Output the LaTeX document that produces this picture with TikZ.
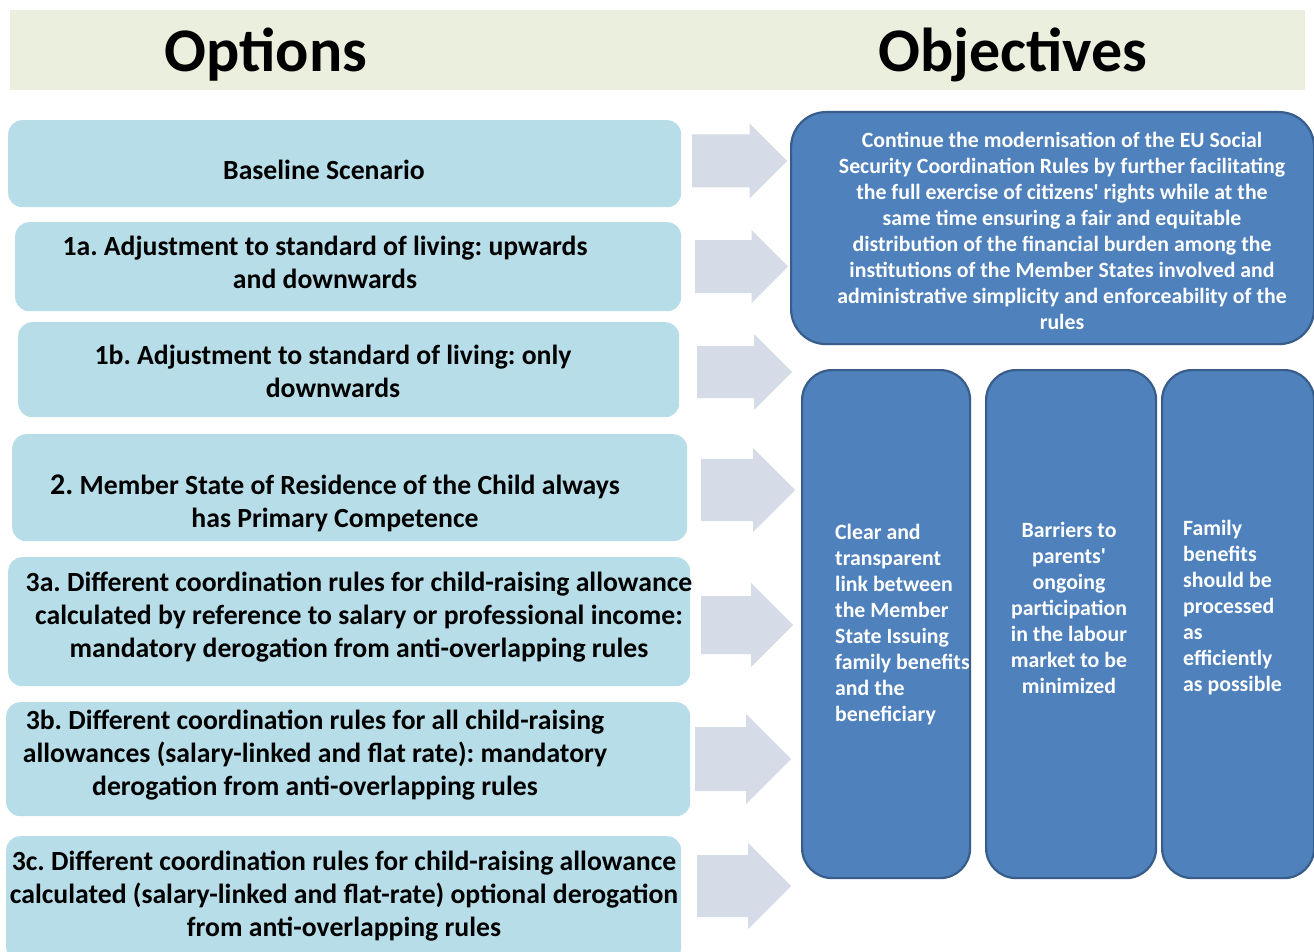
\documentclass[tikz,border=0pt]{standalone}
\usepackage{fontspec}
\setmainfont{Carlito}[Ligatures=TeXOff]
\definecolor{hdrfill}{HTML}{EBF0DE}
\definecolor{optfill}{HTML}{B7DDE8}
\definecolor{arrfill}{HTML}{D6DBE8}
\definecolor{objfill}{HTML}{4F81BD}
\definecolor{objline}{HTML}{385D8A}
\tikzset{
  optbox/.style={fill=optfill, rounded corners=14pt, inner sep=0pt, anchor=north west},
  objbox/.style={fill=objfill, draw=objline, line width=2.2pt, inner sep=0pt, anchor=north west},
  blockarrow/.style={fill=arrfill},
  opttext/.style={font=\fontsize{27.7}{33}\selectfont\bfseries, align=center, inner sep=0pt, text=black},
  objtext/.style={font=\fontsize{21.8}{26}\selectfont\bfseries, text=white, inner sep=0pt},
  titletext/.style={font=\fontsize{62}{70}\selectfont\bfseries, anchor=base, inner sep=0pt}
}
% name, x start, x tip, y centre, shaft half width, head half width
\newcommand{\blockarr}[6]{%
  \fill[blockarrow] (#2,#4-#5) -- (#3-#6,#4-#5) -- (#3-#6,#4-#6) -- (#3,#4)
    -- (#3-#6,#4+#6) -- (#3-#6,#4+#5) -- (#2,#4+#5) -- cycle;
  \coordinate (#1) at (#3,#4);}
\frenchspacing
\begin{document}
\begin{tikzpicture}[x=1pt,y=-1pt]
\clip (0,0) rectangle (1314,952);
\fill[white] (0,0) rectangle (1314,952);
% header
\node[fill=hdrfill, inner sep=0pt, anchor=north west, minimum width=1295pt, minimum height=80pt] (hdr) at (10,10) {};
\node[titletext] (topt) at (266,72) {Options};
\node[titletext] (tobj) at (1013,72) {Objectives};
% option boxes
\node[optbox, minimum width=673pt, minimum height=87pt] (b0) at (8,120) {};
\node[optbox, minimum width=666pt, minimum height=89pt] (b1) at (15,222) {};
\node[optbox, minimum width=661pt, minimum height=95pt] (b2) at (18,322) {};
\node[optbox, minimum width=675pt, minimum height=107pt] (b3) at (12,434) {};
\node[optbox, minimum width=682pt, minimum height=129pt] (b4) at (8,557) {};
\node[optbox, minimum width=684pt, minimum height=114pt] (b5) at (6,702) {};
\node[optbox, minimum width=675pt, minimum height=125pt] (b6) at (6,836) {};
% option texts
\node[opttext] (t0) at (324,170) {Baseline Scenario};
\node[opttext] (t1) at (325,262.5) {1a. Adjustment to standard of living: upwards\\and downwards};
\node[opttext] (t2) at (333,371.5) {1b. Adjustment to standard of living: only\\downwards};
\node[opttext] (t3) at (335,503) {{\fontsize{30}{33}\selectfont 2.} Member State of Residence of the Child always\\has Primary Competence};
\node[opttext] (t4) at (359,617) {3a. Different coordination rules for child-raising allowance\\calculated by reference to salary or professional income:\\mandatory derogation from anti-overlapping rules};
\node[opttext] (t5) at (315,755.5) {3b. Different coordination rules for all child-raising\\allowances (salary-linked and flat rate): mandatory\\derogation from anti-overlapping rules};
\node[opttext] (t6) at (344,896.5) {3c. Different coordination rules for child-raising allowance\\calculated (salary-linked and flat-rate) optional derogation\\from anti-overlapping rules};
% block arrows
\blockarr{a0}{692}{787}{161}{26.5}{37.5}
\blockarr{a1}{695}{788}{266.5}{26.5}{36.5}
\blockarr{a2}{697}{792}{372}{26}{38}
\blockarr{a3}{701}{795}{490}{31}{42}
\blockarr{a4}{701}{793}{625}{29}{42}
\blockarr{a5}{695}{791}{759}{32}{45}
\blockarr{a6}{697}{791}{886}{31}{43}
% objective boxes
\node[objbox, rounded corners=35pt, minimum width=523pt, minimum height=232pt] (o0) at (790,111) {};
\node[objbox, rounded corners=30pt, minimum width=168pt, minimum height=508pt] (c1) at (801,369) {};
\node[objbox, rounded corners=30pt, minimum width=170pt, minimum height=508pt] (c2) at (985,369) {};
\node[objbox, rounded corners=30pt, minimum width=152pt, minimum height=508pt] (c3) at (1161,369) {};
% objective texts
\node[objtext, align=center] (ot0) at (1062,231) {Continue the modernisation of the EU Social\\Security Coordination Rules by further facilitating\\the full exercise of citizens' rights while at the\\same time ensuring a fair and equitable\\distribution of the financial burden among the\\institutions of the Member States involved and\\administrative simplicity and enforceability of the\\rules};
\node[objtext, align=left, anchor=west] (ot1) at (835,625) {Clear and\\transparent\\link between\\the Member\\State Issuing\\family benefits\\and the\\beneficiary};
\node[objtext, align=center] (ot2) at (1069,608) {Barriers to\\parents'\\ongoing\\participation\\in the labour\\market to be\\minimized};
\node[objtext, align=left, anchor=west] (ot3) at (1183,608) {Family\\benefits\\should be\\processed\\as\\efficiently\\as possible};
\end{tikzpicture}
\end{document}
